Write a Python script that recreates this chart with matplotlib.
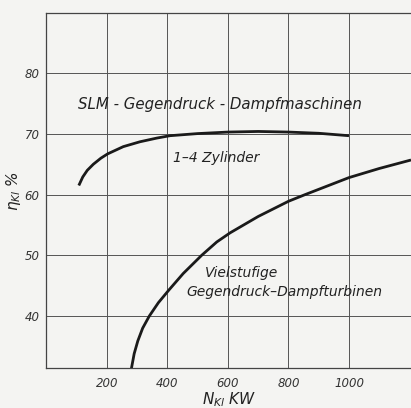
import matplotlib
matplotlib.use('Agg')
import matplotlib.pyplot as plt
import numpy as np

# SLM Gegendruck-Dampfmaschinen (1-4 Zylinder)
n_kolben = [107, 120, 135, 155, 180, 202, 254, 309, 364, 408, 500, 600, 700, 800, 900, 1000]
eta_kolben = [61.5, 62.9, 64.0, 65.0, 66.0, 66.7, 67.9, 68.7, 69.3, 69.7, 70.05, 70.3, 70.4, 70.3, 70.1, 69.7]

# Vielstufige Gegendruck-Dampfturbinen
n_turbine = [281, 290, 302, 318, 340, 370, 405, 452, 513, 563, 607, 700, 800, 855, 1000, 1100, 1205]
eta_turbine = [31.4, 33.8, 35.9, 38.0, 40.0, 42.2, 44.3, 47.0, 50.0, 52.2, 53.7, 56.4, 58.9, 60.0, 62.8, 64.3, 65.7]

x_ticks = [200, 400, 600, 800, 1000]
y_ticks = [40, 50, 60, 70, 80]

paper = '#f4f4f2'
ink = '#1a1a1a'

plt.rcParams['font.family'] = ['DejaVu Sans']
plt.rcParams['mathtext.fontset'] = 'dejavusans'

fig = plt.figure(figsize=(4.11, 4.08), dpi=100, facecolor=paper)
ax = fig.add_axes([0.113, 0.098, 0.887, 0.870], facecolor=paper)

ax.plot(n_kolben, eta_kolben, color=ink, lw=2.0, solid_capstyle='butt', solid_joinstyle='round')
ax.plot(n_turbine, eta_turbine, color=ink, lw=2.0, solid_capstyle='butt', solid_joinstyle='round')

ax.set_xlim(0, 1205)
ax.set_ylim(31.44, 89.9)
ax.set_xticks(x_ticks)
ax.set_yticks(y_ticks)
ax.set_xticklabels([str(v) for v in x_ticks], style='italic', fontsize=8.5, color='#333333')
ax.set_yticklabels([str(v) for v in y_ticks], style='italic', fontsize=8.5, color='#333333')
ax.tick_params(axis='x', length=0, pad=6.5)
ax.tick_params(axis='y', length=0, pad=5)
ax.grid(True, color='#555555', lw=0.7)
ax.set_axisbelow(True)

for side in ['left', 'bottom', 'top']:
    ax.spines[side].set_color('#444444')
    ax.spines[side].set_linewidth(0.9)
ax.spines['right'].set_visible(False)

ax.set_xlabel('$N_{Kl}$ KW', style='italic', fontsize=11, color='#222222', labelpad=0)
ax.set_ylabel(r'$\eta_{Kl}$ %', style='italic', fontsize=11, color='#222222', labelpad=1)

txt = dict(style='italic', fontsize=10, color='#222222', va='center')
ax.text(104, 74.8, 'SLM - Gegendruck - Dampfmaschinen', **dict(txt, fontsize=10.8))
ax.text(418, 66.0, '1–4 Zylinder', **txt)
ax.text(524, 47.1, 'Vielstufige', **txt)
ax.text(461, 44.0, 'Gegendruck–Dampfturbinen', **txt)

fig.savefig('out.png', dpi=100, facecolor=paper)
